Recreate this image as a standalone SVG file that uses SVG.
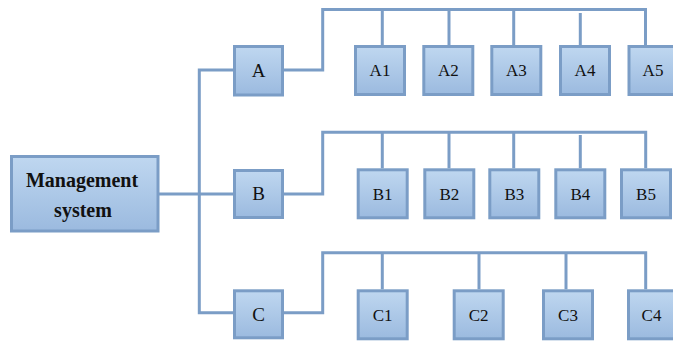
<svg xmlns="http://www.w3.org/2000/svg" width="673" height="343" viewBox="0 0 673 343">
<defs>
<linearGradient id="g" x1="0" y1="0" x2="0" y2="1">
<stop offset="0" stop-color="#BFD7F0"/>
<stop offset="1" stop-color="#9BBADF"/>
</linearGradient>
<style>
.box{fill:url(#g);stroke:#7B9DC6;stroke-width:3}
.ln{fill:none;stroke:#7B9DC6;stroke-width:3;stroke-linejoin:miter}
.t{font-family:"Liberation Serif","Times New Roman",serif;fill:#111;text-anchor:middle}
.big{font-size:19px}
.sm{font-size:17px}
.main{font-size:20px;font-weight:bold}
</style>
</defs>
<rect width="673" height="343" fill="#fff"/>
<g id="connectors">
<polyline class="ln" points="233,70 199.3,70 199.3,312.7 233,312.7"/>
<line class="ln" x1="159" y1="194" x2="233" y2="194"/>
<polyline class="ln" points="284,70 322.7,70 322.7,9.5 645.5,9.5 645.5,45"/>
<line class="ln" x1="382.3" y1="9.5" x2="382.3" y2="45"/>
<line class="ln" x1="449" y1="9.5" x2="449" y2="45"/>
<line class="ln" x1="513.7" y1="9.5" x2="513.7" y2="45"/>
<line class="ln" x1="580.3" y1="13" x2="580.3" y2="45"/>
<polyline class="ln" points="284,194 322.7,194 322.7,132.3 645.7,132.3 645.7,168.3"/>
<line class="ln" x1="382.3" y1="132.3" x2="382.3" y2="168.3"/>
<line class="ln" x1="449" y1="132.3" x2="449" y2="168.3"/>
<line class="ln" x1="513.7" y1="132.3" x2="513.7" y2="168.3"/>
<line class="ln" x1="580.3" y1="135" x2="580.3" y2="168.3"/>
<polyline class="ln" points="284,312.7 322.7,312.7 322.7,252.7 645.7,252.7 645.7,289.3"/>
<line class="ln" x1="382.3" y1="252.7" x2="382.3" y2="289.3"/>
<line class="ln" x1="479" y1="252.7" x2="479" y2="289.3"/>
<line class="ln" x1="566" y1="252.7" x2="566" y2="289.3"/>
</g>
<g id="main"><rect class="box" x="11.5" y="156.5" width="146.5" height="74.5"/><text class="t main" x="82" y="187">Management</text><text class="t main" x="83" y="217">system</text></g>
<g id="A"><rect class="box" x="234.5" y="46.5" width="48" height="48.5"/><text class="t big" x="258.5" y="76.5">A</text></g>
<g id="B"><rect class="box" x="234.5" y="170.5" width="48" height="47"/><text class="t big" x="258.5" y="200">B</text></g>
<g id="C"><rect class="box" x="234.5" y="290.8" width="48" height="47"/><text class="t big" x="258.5" y="320.5">C</text></g>
<g id="A1"><rect class="box" x="355.5" y="46.5" width="49" height="48"/><text class="t sm" x="380" y="76">A1</text></g>
<g id="A2"><rect class="box" x="423.8" y="46.5" width="49" height="48"/><text class="t sm" x="448.3" y="76">A2</text></g>
<g id="A3"><rect class="box" x="491.8" y="46.5" width="49" height="48"/><text class="t sm" x="516.3" y="76">A3</text></g>
<g id="A4"><rect class="box" x="560.5" y="46.5" width="49" height="48"/><text class="t sm" x="585" y="76">A4</text></g>
<g id="A5"><rect class="box" x="629" y="46.5" width="49" height="48"/><text class="t sm" x="653" y="76">A5</text></g>
<g id="B1"><rect class="box" x="358.2" y="169.8" width="49" height="48"/><text class="t sm" x="382.7" y="199.5">B1</text></g>
<g id="B2"><rect class="box" x="424.8" y="169.8" width="49" height="48"/><text class="t sm" x="449.3" y="199.5">B2</text></g>
<g id="B3"><rect class="box" x="489.8" y="169.8" width="49" height="48"/><text class="t sm" x="514.3" y="199.5">B3</text></g>
<g id="B4"><rect class="box" x="555.8" y="169.8" width="49" height="48"/><text class="t sm" x="580.3" y="199.5">B4</text></g>
<g id="B5"><rect class="box" x="621.5" y="169.8" width="49" height="48"/><text class="t sm" x="646" y="199.5">B5</text></g>
<g id="C1"><rect class="box" x="358.2" y="290.8" width="49" height="48"/><text class="t sm" x="382.7" y="320.5">C1</text></g>
<g id="C2"><rect class="box" x="454.2" y="290.8" width="49" height="48"/><text class="t sm" x="478.7" y="320.5">C2</text></g>
<g id="C3"><rect class="box" x="543.5" y="290.8" width="49" height="48"/><text class="t sm" x="568" y="320.5">C3</text></g>
<g id="C4"><rect class="box" x="628.5" y="290.8" width="49" height="48"/><text class="t sm" x="651.5" y="320.5">C4</text></g>
</svg>
